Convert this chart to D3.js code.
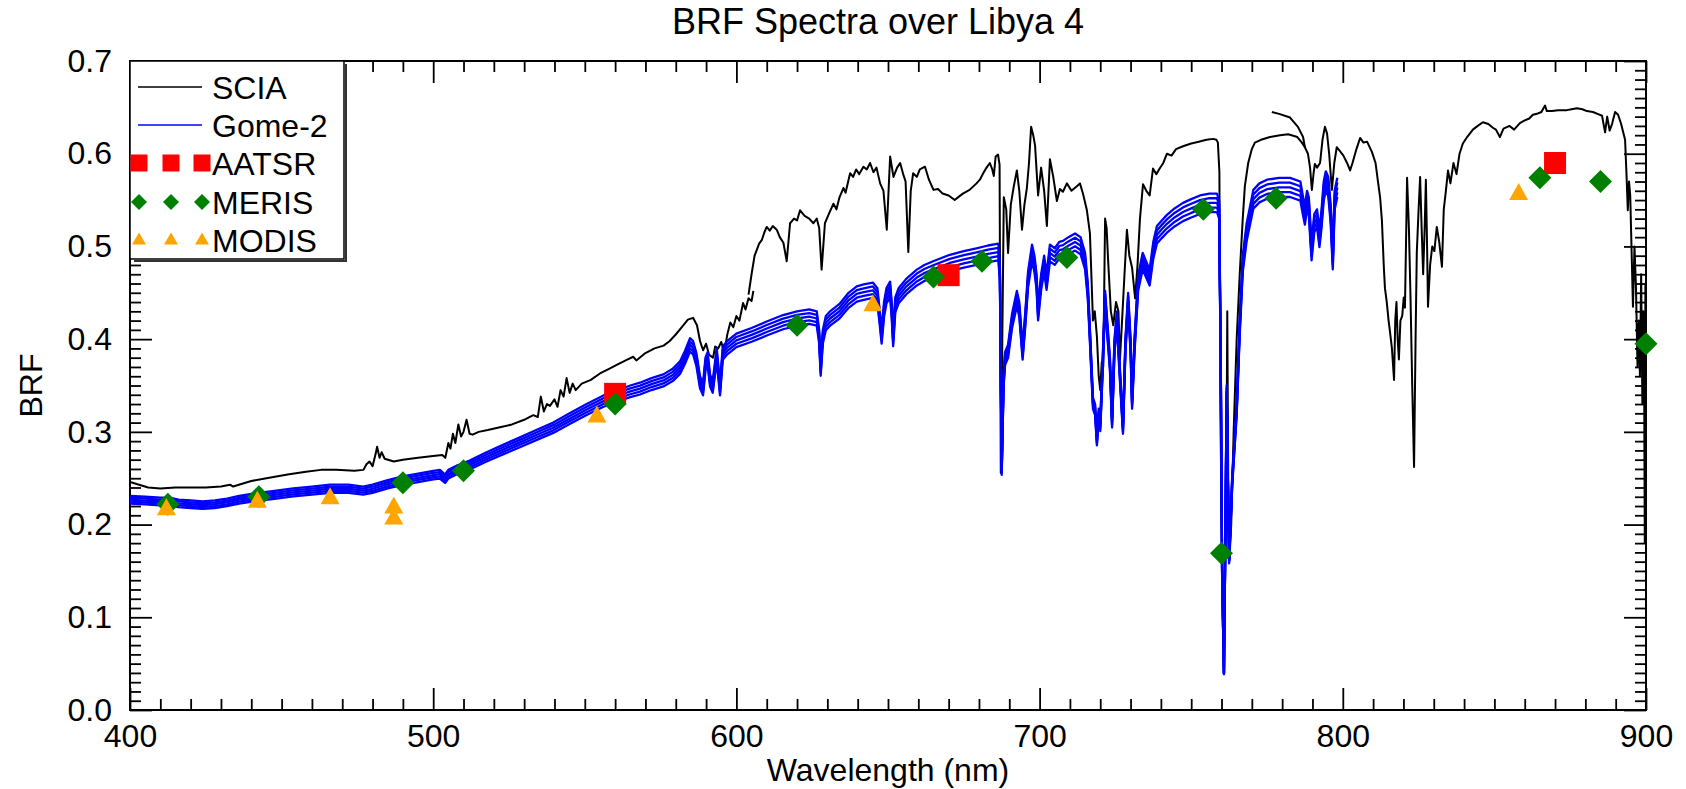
<!DOCTYPE html>
<html><head><meta charset="utf-8">
<script src="https://cdn.jsdelivr.net/npm/d3@7"></script>
<style>
body{margin:0;background:#fff;}
svg text{font-family:"Liberation Sans",Arial,Helvetica,sans-serif;fill:#000;}
</style></head><body>
<svg id="chart" width="1686" height="789"></svg>
<script>
// ---------- DATA ----------
const chartTitle = "BRF Spectra over Libya 4";
const xLabel = "Wavelength (nm)";
const yLabel = "BRF";
const xTicks = [400, 500, 600, 700, 800, 900];
const xTickLabels = ["400", "500", "600", "700", "800", "900"];
const yTicks = [0, 0.1, 0.2, 0.3, 0.4, 0.5, 0.6, 0.7];
const yTickLabels = ["0.0", "0.1", "0.2", "0.3", "0.4", "0.5", "0.6", "0.7"];
const seriesNames = ["SCIA", "Gome-2", "AATSR", "MERIS", "MODIS"];

// SCIA spectrum, channel segments [wavelength nm, BRF]
const sciaA = [[400,0.246],[403,0.243],[406,0.240],[410,0.239],[415,0.240],[420,0.240],[425,0.240],[430,0.241],[433,0.243],[434,0.241],[440,0.247],[445,0.250],[452,0.254],[458,0.257],[463,0.259],[468,0.259],[474,0.258],[477,0.259],[478,0.265],[479,0.268],[480,0.263],[481,0.276],[481.5,0.284],[482.3,0.272],[483,0.278],[484,0.271],[487,0.268],[490,0.270],[495,0.272],[500,0.274],[503,0.275],[504,0.272],[505,0.288],[505.7,0.282],[506.5,0.298],[507.3,0.288],[508.3,0.308],[509.2,0.295],[510,0.300],[511,0.313],[512,0.298],[513,0.297],[515,0.300],[518,0.302],[522,0.305],[526,0.308],[530,0.313],[533,0.318],[534.5,0.316],[535.5,0.338],[536.5,0.322],[537.5,0.330],[538.5,0.328],[540,0.335],[541,0.327],[542,0.345],[543,0.338],[544,0.358],[545,0.342],[546,0.352],[547,0.345],[549,0.352],[552,0.356],[555,0.363],[558,0.368],[561,0.373],[564,0.378],[566,0.381],[567,0.377],[570,0.385],[573,0.390],[576,0.393],[578,0.398],[580,0.405],[582,0.413],[584,0.421],[585.7,0.423],[587,0.415],[588,0.398],[589,0.388],[590,0.395],[591,0.383],[592.3,0.380],[593,0.392],[594,0.390],[595,0.397],[596,0.386],[597,0.405],[598,0.418],[599,0.413],[600,0.425],[601,0.420],[602.2,0.439],[603,0.432],[604,0.444],[605,0.441],[605.6,0.452]];
const sciaB = [[604,0.448],[605,0.470],[606,0.490],[606.7,0.496],[607.5,0.503],[608.4,0.507],[609.2,0.515],[610,0.521],[611,0.517],[612,0.522],[613.3,0.518],[614.3,0.510],[615.5,0.504],[616.6,0.484],[617.7,0.525],[619,0.530],[620,0.528],[621,0.539],[622.5,0.533],[624,0.530],[625.4,0.525],[626.5,0.530],[627.3,0.520],[628.1,0.475],[629.2,0.525],[630.5,0.535],[632,0.546],[633,0.540],[634,0.553],[635.3,0.563],[636,0.558],[637.5,0.579],[638.5,0.575],[639.5,0.583],[640.5,0.578],[641.9,0.586],[643,0.583],[644.1,0.590],[645.2,0.580],[646.2,0.585],[647.4,0.568],[648.5,0.560],[649.6,0.518],[650.7,0.597],[651.8,0.575],[653,0.585],[654,0.590],[655,0.578],[655.8,0.570],[656.7,0.494],[657.5,0.560],[658.3,0.579],[659.5,0.575],[660.5,0.583],[662.2,0.586],[663.5,0.572],[665,0.561],[666.5,0.562],[668,0.557],[670,0.555],[672,0.550],[673.5,0.554],[674.7,0.557],[676.9,0.561],[679.2,0.568],[680.3,0.572],[681.4,0.579],[682.5,0.585],[683.6,0.590],[684.4,0.583],[684.9,0.576],[685.5,0.597],[686.3,0.599],[686.8,0.588],[687.2,0.256],[687.7,0.400],[688.2,0.553],[689.0,0.540],[689.6,0.493],[690.5,0.545],[691.5,0.565],[692.5,0.582],[693.3,0.560],[694.2,0.518],[695,0.545],[695.8,0.563],[696.5,0.590],[697.2,0.629],[697.9,0.620],[698.5,0.609],[699.5,0.555],[700.5,0.585],[701.5,0.560],[702.4,0.522],[703.4,0.594],[704.5,0.575],[705.7,0.549],[706.7,0.562],[707.7,0.559],[709,0.568],[710.5,0.560],[712.3,0.565],[713.3,0.568],[714.3,0.557],[715.6,0.539],[716.6,0.514],[717.6,0.420],[718.2,0.430],[718.9,0.403],[719.5,0.360],[720,0.345],[720.5,0.375],[721,0.370],[721.6,0.530],[722.1,0.520],[722.6,0.485],[723.5,0.430],[724.3,0.415],[725.2,0.440],[726,0.430],[726.5,0.378],[727.2,0.420],[728,0.470],[728.8,0.518],[729.6,0.490],[730.5,0.477],[731.5,0.444],[732.3,0.480],[733.1,0.530],[734.1,0.567],[735.2,0.560],[736.3,0.555],[737.4,0.584],[738.5,0.578],[739.6,0.584],[740.8,0.590],[742,0.600],[743.5,0.598],[745,0.605],[747.3,0.608],[750,0.611],[752.5,0.613],[755,0.615],[757.2,0.616],[758.3,0.615],[758.8,0.612],[759.3,0.580],[759.7,0.300],[760.2,0.170],[760.8,0.160],[761.3,0.170],[761.6,0.250],[761.9,0.430],[762.2,0.250],[762.6,0.162],[763.2,0.200],[764,0.300],[765,0.400],[766,0.470],[767,0.530],[767.7,0.565],[768.8,0.590],[770,0.605],[771,0.612],[773,0.615],[776,0.618],[779.3,0.620],[782,0.621],[785,0.618],[786.5,0.612],[787.5,0.607]];
const sciaC = [[776.6,0.645],[779,0.643],[782.6,0.639],[785.2,0.629],[786.9,0.618],[787.5,0.607],[788.5,0.600],[789.2,0.585],[789.8,0.561],[790.4,0.580],[790.8,0.589],[791.5,0.585],[792.5,0.590],[793.3,0.615],[794.1,0.629],[794.8,0.622],[795.5,0.600],[796.4,0.561],[797.2,0.590],[798,0.607],[799,0.603],[800.2,0.598],[801.4,0.590],[802.4,0.582],[803.2,0.590],[804.5,0.605],[805.7,0.617],[806.8,0.612],[808,0.613],[809.6,0.602],[810.8,0.590],[811.6,0.570],[812.3,0.553],[812.9,0.528],[813.5,0.480],[813.9,0.455],[814.5,0.440],[815.1,0.420],[815.6,0.407],[816.2,0.390],[816.9,0.356],[817.3,0.420],[817.7,0.440],[818.1,0.400],[818.5,0.378],[819,0.420],[819.6,0.425],[820.1,0.445],[820.5,0.434],[821.2,0.574],[821.8,0.520],[822.3,0.450],[822.9,0.350],[823.5,0.262],[824,0.400],[824.4,0.493],[825.0,0.540],[825.5,0.575],[826.0,0.520],[826.5,0.470],[827.0,0.520],[827.4,0.572],[827.8,0.500],[828.1,0.435],[828.8,0.480],[829.5,0.500],[830.2,0.495],[831,0.521],[831.8,0.505],[832.7,0.478],[833.3,0.540],[834,0.560],[834.7,0.582],[835.5,0.568],[836.5,0.590],[837.5,0.578],[838.5,0.600],[839.6,0.611],[841,0.618],[842.9,0.626],[844.5,0.630],[846.2,0.634],[848,0.632],[849.5,0.628],[850.5,0.626],[851.8,0.618],[853,0.627],[855,0.630],[856.5,0.626],[858.4,0.633],[860,0.636],[861.5,0.638],[862.7,0.642],[864,0.643],[865.5,0.645],[866.7,0.652],[867.3,0.646],[869,0.646],[871,0.647],[873.9,0.647],[875.5,0.648],[877.2,0.649],[879,0.648],[880.5,0.646],[882.5,0.645],[884,0.643],[885.5,0.641],[886.5,0.623],[887.2,0.640],[888,0.625],[888.8,0.632],[889.8,0.645],[890.8,0.642],[891.8,0.632],[893.1,0.615],[893.6,0.575],[894,0.539],[894.4,0.570],[894.8,0.555],[895.7,0.435],[896.2,0.500],[896.7,0.455],[897.2,0.370],[897.6,0.420],[898,0.360],[898.4,0.470],[898.8,0.330],[899.1,0.430],[899.4,0.350],[899.6,0.180],[899.8,0.460],[900,0.190]];

// Gome-2: upper curve of the bundle [wavelength nm, BRF], plus relative levels of the bundle's lines
const gome2 = [[400,0.231],[405,0.230],[410,0.229],[413,0.229],[416,0.227],[420,0.226],[424,0.225],[428,0.226],[432,0.228],[436,0.231],[441.8,0.234],[447,0.236],[453.9,0.239],[460,0.241],[466,0.243],[472,0.243],[476.9,0.241],[480,0.243],[485,0.248],[490,0.252],[495,0.255],[500,0.258],[502.2,0.259],[503.9,0.254],[505,0.259],[508,0.264],[512,0.269],[517.6,0.278],[523,0.286],[528.6,0.294],[534,0.302],[539.6,0.310],[545,0.320],[550.6,0.330],[556,0.339],[561.6,0.346],[565,0.350],[568.2,0.353],[572,0.358],[575.9,0.362],[579,0.368],[581.4,0.376],[583,0.387],[584.7,0.401],[585.7,0.398],[586.8,0.385],[588,0.360],[589,0.352],[589.8,0.380],[590.5,0.386],[591.3,0.362],[592.2,0.355],[593.5,0.390],[594.6,0.352],[595.5,0.392],[597,0.398],[600,0.406],[605,0.412],[610,0.419],[615.4,0.426],[620,0.430],[624,0.432],[626.5,0.430],[627.3,0.410],[627.8,0.374],[628.5,0.410],[629.5,0.425],[630.9,0.430],[634,0.438],[637,0.450],[639.7,0.457],[642,0.459],[645,0.461],[646.5,0.455],[647.3,0.430],[647.9,0.410],[648.7,0.440],[649.5,0.455],[650.7,0.462],[651.2,0.440],[651.7,0.407],[652.4,0.445],[653.5,0.455],[656,0.465],[659.5,0.475],[662,0.480],[664.9,0.484],[670.4,0.491],[675,0.495],[679.2,0.498],[683,0.501],[686.4,0.503],[686.9,0.480],[687.5,0.263],[688.1,0.360],[688.6,0.386],[689.6,0.394],[690.9,0.427],[692.5,0.452],[693.3,0.440],[694.4,0.392],[695.3,0.430],[696.2,0.473],[697.5,0.502],[698.3,0.490],[699,0.470],[699.5,0.436],[700.5,0.470],[701.5,0.490],[702.3,0.470],[703.4,0.502],[705,0.498],[706.5,0.505],[707.7,0.506],[709.5,0.510],[711.7,0.514],[713.5,0.510],[715,0.493],[715.9,0.460],[716.6,0.411],[717.6,0.337],[718.3,0.330],[718.9,0.296],[719.5,0.325],[720,0.312],[720.7,0.370],[721.6,0.452],[722.3,0.420],[723.2,0.380],[723.9,0.316],[724.7,0.400],[725.5,0.430],[726.3,0.380],[727.5,0.309],[728.3,0.400],[729.2,0.450],[730,0.400],[730.5,0.337],[731.3,0.400],[732.5,0.469],[734,0.493],[735,0.485],[736.3,0.475],[737.5,0.505],[738.7,0.522],[740.3,0.528],[742,0.534],[744.5,0.541],[747.3,0.547],[750,0.551],[752.9,0.555],[756,0.557],[758.5,0.557],[759.2,0.550],[759.7,0.400],[760.2,0.150],[760.8,0.040],[761.3,0.200],[761.7,0.350],[762.1,0.250],[762.5,0.164],[763.5,0.250],[765,0.330],[766,0.420],[767,0.490],[768.3,0.525],[770.5,0.561],[772.5,0.568],[775,0.572],[779,0.574],[782.6,0.574],[786,0.570],[786.8,0.555],[787.5,0.543],[788.2,0.560],[788.8,0.553],[789.7,0.503],[790.6,0.535],[791.5,0.540],[792.3,0.518],[793,0.540],[793.7,0.570],[794.4,0.581],[795.2,0.575],[796,0.545],[796.7,0.493],[797.3,0.560],[798.2,0.574]];
const gome2Levels = [1.000, 0.991, 0.982, 0.973, 0.964];

// Band measurements
const aatsrWl  = [560, 670, 870];
const aatsrBrf = [0.341, 0.469, 0.590];
const merisWl  = [412.5, 442.5, 490, 510, 560, 620, 665, 681, 709, 754, 760, 778, 865, 885, 900];
const merisBrf = [0.222, 0.230, 0.245, 0.258, 0.330, 0.415, 0.467, 0.484, 0.488, 0.540, 0.169, 0.552, 0.574, 0.570, 0.395];
const modisWl  = [412, 442, 466, 487, 487, 554, 645, 858];
const modisBrf = [0.217, 0.225, 0.229, 0.219, 0.207, 0.317, 0.437, 0.557];

// ---------- LAYOUT / STYLE ----------
const m = {l:130, r:1646, t:61, b:710};
const colors = {scia:"#000000", gome:"#0000ff", aatsr:"#ff0000", meris:"#008000", modis:"#ffa500"};
const FONT = 32;

const svg = d3.select("#chart");
const x = d3.scaleLinear().domain([400, 900]).range([m.l, m.r]);
const y = d3.scaleLinear().domain([0, 0.7]).range([m.b, m.t]);

svg.append("defs").append("clipPath").attr("id","plotclip")
  .append("rect").attr("x",m.l).attr("y",m.t).attr("width",m.r-m.l).attr("height",m.b-m.t);

// axes
function styleAxis(g){
  g.select(".domain").remove();
  g.selectAll(".tick line").attr("stroke","#000").attr("stroke-width",1.8);
  g.selectAll("text").attr("font-size",FONT).attr("font-family","'Liberation Sans',Arial,sans-serif").attr("fill","#000");
}
const minorX = d3.range(400, 901, 10).filter(v => !xTicks.includes(v));
const minorY = d3.range(0, 71, 1).map(v => v/100).filter(v => !yTicks.some(t => Math.abs(t-v)<1e-9));

svg.append("g").attr("transform",`translate(0,${m.b})`)
  .call(d3.axisBottom(x).tickValues(xTicks).tickSize(-22).tickPadding(14).tickFormat((d,i)=>xTickLabels[i])).call(styleAxis);
svg.append("g").attr("transform",`translate(0,${m.b})`)
  .call(d3.axisBottom(x).tickValues(minorX).tickSize(-11).tickFormat("")).call(styleAxis);
svg.append("g").attr("transform",`translate(0,${m.t})`)
  .call(d3.axisTop(x).tickValues(xTicks).tickSize(-22).tickFormat("")).call(styleAxis);
svg.append("g").attr("transform",`translate(0,${m.t})`)
  .call(d3.axisTop(x).tickValues(minorX).tickSize(-11).tickFormat("")).call(styleAxis);
svg.append("g").attr("transform",`translate(${m.l},0)`)
  .call(d3.axisLeft(y).tickValues(yTicks).tickSize(-22).tickPadding(18).tickFormat((d,i)=>yTickLabels[i])).call(styleAxis);
svg.append("g").attr("transform",`translate(${m.l},0)`)
  .call(d3.axisLeft(y).tickValues(minorY).tickSize(-11).tickFormat("")).call(styleAxis);
svg.append("g").attr("transform",`translate(${m.r},0)`)
  .call(d3.axisRight(y).tickValues(yTicks).tickSize(-22).tickFormat("")).call(styleAxis);
svg.append("g").attr("transform",`translate(${m.r},0)`)
  .call(d3.axisRight(y).tickValues(minorY).tickSize(-11).tickFormat("")).call(styleAxis);

// frame
svg.append("rect").attr("x",m.l).attr("y",m.t).attr("width",m.r-m.l).attr("height",m.b-m.t)
  .attr("fill","none").attr("stroke","#000").attr("stroke-width",2);

// title & axis labels
svg.append("text").attr("x",878).attr("y",34).attr("text-anchor","middle").attr("font-size",36).text(chartTitle);
svg.append("text").attr("x",(m.l+m.r)/2).attr("y",781).attr("text-anchor","middle").attr("font-size",FONT).text(xLabel);
svg.append("text").attr("transform",`translate(42,${(m.t+m.b)/2}) rotate(-90)`).attr("text-anchor","middle").attr("font-size",FONT).text(yLabel);

// lines
const line = d3.line().x(d=>x(d[0])).y(d=>y(d[1]));
const plot = svg.append("g").attr("clip-path","url(#plotclip)");
[sciaA, sciaB, sciaC].forEach(seg => {
  plot.append("path").datum(seg).attr("d",line).attr("fill","none")
    .attr("stroke",colors.scia).attr("stroke-width",2).attr("stroke-linejoin","round");
});
gome2Levels.forEach(k => {
  plot.append("path").datum(gome2.map(d=>[d[0], d[1]*k])).attr("d",line).attr("fill","none")
    .attr("stroke",colors.gome).attr("stroke-width",2.3).attr("stroke-linejoin","round");
});

// marker shapes
function squarePath(s){const h=s/2;return `M${-h},${-h}H${h}V${h}H${-h}Z`;}
function diamondPath(s){const h=s/2;return `M0,${-h}L${h},0L0,${h}L${-h},0Z`;}
function trianglePath(w,h){return `M0,${-h*0.62}L${w/2},${h*0.38}L${-w/2},${h*0.38}Z`;}

const mk = svg.append("g");
mk.selectAll(".aatsr").data(aatsrWl.map((w,i)=>[w,aatsrBrf[i]])).join("path")
  .attr("d",squarePath(22)).attr("fill",colors.aatsr)
  .attr("transform",d=>`translate(${x(d[0])},${y(d[1])})`);
mk.selectAll(".meris").data(merisWl.map((w,i)=>[w,merisBrf[i]])).join("path")
  .attr("d",diamondPath(23)).attr("fill",colors.meris)
  .attr("transform",d=>`translate(${x(d[0])},${y(d[1])})`);
mk.selectAll(".modis").data(modisWl.map((w,i)=>[w,modisBrf[i]])).join("path")
  .attr("d",trianglePath(19,17)).attr("fill",colors.modis)
  .attr("transform",d=>`translate(${x(d[0])},${y(d[1])})`);

// legend
const lg = svg.append("g");
const lgX = m.l, lgY = m.t, lgW = 214, lgH = 198;
lg.append("path").attr("d",`M${lgX+4},${lgY+lgH+2}H${lgX+lgW+2}V${lgY+3}`).attr("fill","none").attr("stroke","#333").attr("stroke-width",2);
lg.append("rect").attr("x",lgX).attr("y",lgY).attr("width",lgW).attr("height",lgH).attr("fill","#fff").attr("stroke","#000").attr("stroke-width",1.5);
const rowY = [87, 125, 163, 202, 240];
const symX = [139, 171, 202];
seriesNames.forEach((name,i) => {
  lg.append("text").attr("x",212).attr("y",rowY[i]+12).attr("font-size",FONT).text(name);
});
lg.append("line").attr("x1",138).attr("x2",202).attr("y1",rowY[0]).attr("y2",rowY[0]).attr("stroke",colors.scia).attr("stroke-width",1.5);
lg.append("line").attr("x1",138).attr("x2",202).attr("y1",rowY[1]).attr("y2",rowY[1]).attr("stroke",colors.gome).attr("stroke-width",1.5);
symX.forEach(sx => {
  lg.append("path").attr("d",squarePath(17)).attr("fill",colors.aatsr).attr("transform",`translate(${sx},${rowY[2]})`);
  lg.append("path").attr("d",diamondPath(16)).attr("fill",colors.meris).attr("transform",`translate(${sx},${rowY[3]})`);
  lg.append("path").attr("d",trianglePath(14,12)).attr("fill",colors.modis).attr("transform",`translate(${sx},${rowY[4]})`);
});
</script>
</body></html>
